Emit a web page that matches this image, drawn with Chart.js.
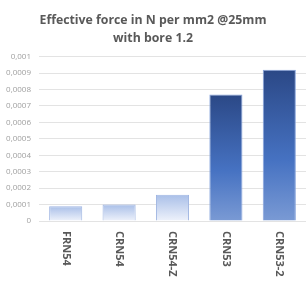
<!DOCTYPE html>
<html>
<head>
<meta charset="utf-8">
<script src="https://cdn.jsdelivr.net/npm/chart.js@4/dist/chart.umd.min.js"></script>
<style>
  html, body { margin: 0; padding: 0; background: #fff; }
  #wrap { width: 306px; height: 284px; }
</style>
</head>
<body>
<div id="wrap"><canvas id="chart"></canvas></div>
<script>
const categories = ["FRN54", "CRN54", "CRN54-Z", "CRN53", "CRN53-2"];
const forceValues = [0.00009, 0.0001, 0.00016, 0.00077, 0.00092];
const darkBars = [false, false, false, true, true];
const titleLines = ["Effective force in N per mm2 @25mm", "with bore 1.2"];

// per-bar vertical gradient, from bar top down to the base line
function barFill(ctx) {
  const chart = ctx.chart;
  const y = chart.scales.y;
  const dark = darkBars[ctx.dataIndex];
  if (!y || ctx.dataIndex === undefined) return dark ? "#4472c4" : "#c9d6f0";
  const top = y.getPixelForValue(forceValues[ctx.dataIndex]);
  const base = y.getPixelForValue(0);
  if (!isFinite(top) || !isFinite(base) || top === base) return dark ? "#4472c4" : "#c9d6f0";
  const g = chart.ctx.createLinearGradient(0, top, 0, base);
  if (dark) {
    g.addColorStop(0, "#2b4886");
    g.addColorStop(0.6, "#4672c2");
    g.addColorStop(1, "#7a9ad4");
  } else {
    g.addColorStop(0, "#a9bfe8");
    g.addColorStop(1, "#eef2fb");
  }
  return g;
}

// x labels read top to bottom, so they are drawn here instead of by the axis
const rotatedLabels = {
  id: "rotatedLabels",
  afterDraw(chart) {
    const c = chart.ctx;
    const x = chart.scales.x;
    const yTop = chart.scales.y.bottom + 10;
    c.save();
    c.font = "bold 11px 'Open Sans', sans-serif";
    c.fillStyle = "#595959";
    c.textAlign = "left";
    c.textBaseline = "middle";
    categories.forEach((label, i) => {
      c.save();
      c.translate(x.getPixelForValue(i), yTop);
      c.rotate(Math.PI / 2);
      c.fillText(label, 0, 0);
      c.restore();
    });
    c.restore();
  }
};

const chart = new Chart(document.getElementById("chart"), {
  type: "bar",
  data: {
    labels: categories,
    datasets: [{
      data: forceValues,
      backgroundColor: barFill,
      borderColor: (ctx) => darkBars[ctx.dataIndex] ? "#86a3dc" : "#9fb5e2",
      borderWidth: 1,
      barPercentage: 0.62,
      categoryPercentage: 1
    }]
  },
  plugins: [rotatedLabels],
  options: {
    responsive: true,
    maintainAspectRatio: false,
    animation: false,
    layout: { padding: { left: 0, right: 0, top: 4, bottom: 55 } },
    plugins: {
      legend: { display: false },
      tooltip: { enabled: false },
      title: {
        display: true,
        text: titleLines,
        color: "#595959",
        font: { family: "'Open Sans', sans-serif", size: 12.3, weight: "bold", lineHeight: 1.45 },
        padding: { top: 8, bottom: 9 }
      }
    },
    scales: {
      x: {
        ticks: { display: false },
        grid: { display: false },
        border: { display: false }
      },
      y: {
        min: 0,
        max: 0.001,
        afterFit(scale) { scale.width = 39; },
        ticks: {
          stepSize: 0.0001,
          color: "#a0a0a0",
          padding: 8,
          font: { family: "'Open Sans', sans-serif", size: 8 },
          callback: (v) => v === 0 ? "0" : Number(v.toFixed(4)).toString().replace(".", ",")
        },
        grid: { color: "#e3e3e3", drawTicks: false },
        border: { display: false }
      }
    }
  }
});
// redraw once the scales exist so the gradients can be sized per bar
chart.update();
</script>
</body>
</html>
